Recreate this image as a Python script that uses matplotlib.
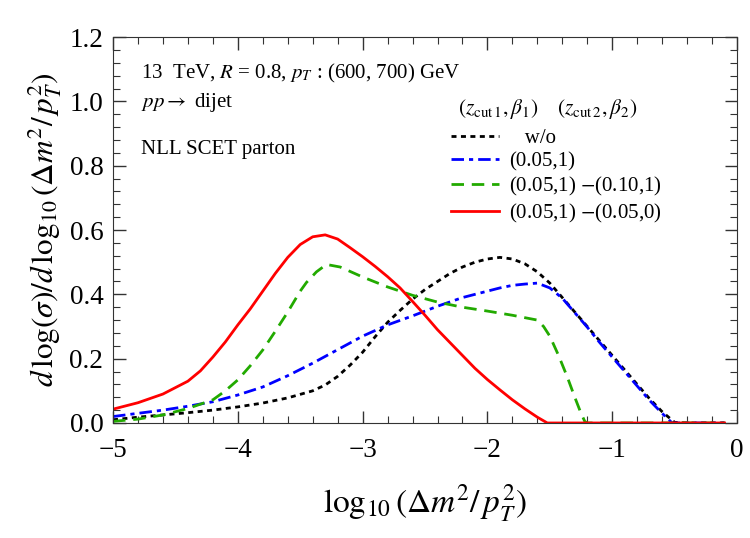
import numpy as np
import matplotlib
matplotlib.use("Agg")
import matplotlib.pyplot as plt
from matplotlib.ticker import MultipleLocator

# ----------- Data -----------
x_wo = [-5.0, -4.8, -4.6, -4.4, -4.2, -4.0, -3.8, -3.6, -3.4, -3.3, -3.2, -3.1, -3.0,
        -2.9, -2.8, -2.7, -2.6, -2.5, -2.4, -2.3, -2.2, -2.1, -2.0, -1.9, -1.8, -1.7,
        -1.6, -1.5, -1.4, -1.3, -1.2, -1.1, -1.0, -0.9, -0.8, -0.7, -0.6, -0.5, -0.4, -0.1]
y_wo = [0.01, 0.018, 0.025, 0.032, 0.04, 0.05, 0.062, 0.078, 0.10, 0.118, 0.145, 0.18, 0.22,
        0.268, 0.313, 0.35, 0.385, 0.415, 0.44, 0.465, 0.485, 0.50, 0.51, 0.515, 0.51, 0.495,
        0.47, 0.435, 0.39, 0.345, 0.30, 0.255, 0.21, 0.165, 0.12, 0.075, 0.035, 0.002, 0.0, 0.0]

x_one = [-5.0, -4.8, -4.6, -4.4, -4.2, -4.0, -3.8, -3.6, -3.4, -3.2, -3.0, -2.8, -2.6,
         -2.4, -2.2, -2.0, -1.9, -1.8, -1.7, -1.6, -1.5, -1.4, -1.3, -1.2, -1.1, -1.0,
         -0.9, -0.8, -0.7, -0.6, -0.52, -0.1]
y_one = [0.02, 0.03, 0.04, 0.052, 0.066, 0.087, 0.112, 0.147, 0.186, 0.228, 0.27, 0.305, 0.333,
         0.363, 0.39, 0.41, 0.42, 0.428, 0.432, 0.435, 0.42, 0.388, 0.343, 0.298, 0.25, 0.205,
         0.16, 0.115, 0.07, 0.03, 0.0, 0.0]

x_two = [-5.0, -4.8, -4.6, -4.4, -4.2, -4.1, -4.0, -3.9, -3.8, -3.7, -3.6, -3.5, -3.45,
         -3.37, -3.29, -3.18, -3.0, -2.8, -2.6, -2.4, -2.2, -2.0, -1.8, -1.6, -1.55, -1.5,
         -1.43, -1.36, -1.3, -1.25, -1.22, -1.2, -0.1]
y_two = [0.005, 0.012, 0.025, 0.045, 0.072, 0.10, 0.134, 0.178, 0.227, 0.285, 0.345, 0.41, 0.437,
         0.47, 0.493, 0.485, 0.454, 0.423, 0.397, 0.376, 0.36, 0.348, 0.335, 0.32, 0.30, 0.27,
         0.21, 0.143, 0.08, 0.03, 0.005, 0.0, 0.0]

x_grm = [-5.0, -4.8, -4.6, -4.4, -4.3, -4.2, -4.1, -4.0, -3.9, -3.8, -3.7, -3.6, -3.5, -3.4,
         -3.3, -3.2, -3.1, -3.0, -2.9, -2.8, -2.7, -2.6, -2.5, -2.4, -2.3, -2.2, -2.1,
         -2.0, -1.9, -1.8, -1.7, -1.6, -1.52, -0.1]
y_grm = [0.043, 0.063, 0.09, 0.13, 0.162, 0.205, 0.252, 0.305, 0.355, 0.41, 0.465, 0.515, 0.555,
         0.579, 0.585, 0.572, 0.545, 0.517, 0.487, 0.455, 0.42, 0.378, 0.335, 0.29, 0.25, 0.21,
         0.17, 0.135, 0.103, 0.072, 0.044, 0.018, 0.0, 0.0]

labels = ["   w/o", "(0.05,1)", "(0.05,1) $-$(0.10,1)", "(0.05,1) $-$(0.05,0)"]

# ----------- Style -----------
plt.rcParams["font.family"] = ["Liberation Serif", "DejaVu Serif"]
plt.rcParams["mathtext.fontset"] = "stix"

fig = plt.figure(figsize=(7.5, 5.38), dpi=100)
ax = fig.add_axes([0.1507, 0.2138, 0.8320, 0.7172])

lw = 2.0
ax.plot(x_wo, y_wo, color="black", lw=lw, dashes=(1.8, 1.6), label=labels[0])
ax.plot(x_one, y_one, color="#0000ff", lw=lw, dashes=(4.5, 1.8, 1.5, 1.8), label=labels[1])
ax.plot(x_two, y_two, color="#22aa00", lw=lw, dashes=(4.5, 2.8), label=labels[2])
ax.plot(x_grm, y_grm, color="#ff0000", lw=lw, label=labels[3])

ax.set_xlim(-5, 0)
ax.set_ylim(0, 1.2)
ax.xaxis.set_major_locator(MultipleLocator(1))
ax.xaxis.set_minor_locator(MultipleLocator(0.2))
ax.yaxis.set_major_locator(MultipleLocator(0.2))
ax.yaxis.set_minor_locator(MultipleLocator(0.04))
ax.xaxis.set_major_formatter(plt.FuncFormatter(lambda v, p: f"{v:.0f}".replace("-", "\u2212")))
ax.yaxis.set_major_formatter(plt.FuncFormatter(lambda v, p: f"{v:.1f}"))
ax.tick_params(which="both", direction="in", top=True, right=True, labelsize=19.5, color="#333333")
ax.tick_params(which="major", length=9, width=1.0)
ax.tick_params(which="minor", length=5, width=0.8)
ax.tick_params(axis="x", which="major", pad=11)
ax.tick_params(axis="y", which="major", pad=7)
for s in ax.spines.values():
    s.set_color("#333333")

ax.set_xlabel(r"$\log_{10}(\Delta m^2/\,p_T^2)$", fontsize=24, labelpad=14)
ax.set_ylabel(r"$d\,\log(\sigma)/d\,\log_{10}(\Delta m^2/\,p_T^2)$", fontsize=22.5, labelpad=4)

ax.text(0.045, 0.905, r"13  TeV, $R$ = 0.8, $p_T$ : (600, 700) GeV", transform=ax.transAxes,
        fontsize=15, va="center")
ax.text(0.045, 0.83, r"$pp \rightarrow$ dijet", transform=ax.transAxes, fontsize=15, va="center")
ax.text(0.045, 0.71, "NLL SCET parton", transform=ax.transAxes, fontsize=15, va="center")

ax.text(0.553, 0.815, r"$(z_{\mathrm{cut}\,1},\beta_1)\quad\;(z_{\mathrm{cut}\,2},\beta_2)$",
        transform=ax.transAxes, fontsize=15.5, va="center")

ax.legend(loc="upper left", bbox_to_anchor=(0.525, 0.79), frameon=False, fontsize=15,
          handlelength=2.3, handletextpad=0.5, labelspacing=0.18, borderpad=0.0)

fig.savefig("out.png", dpi=100)
